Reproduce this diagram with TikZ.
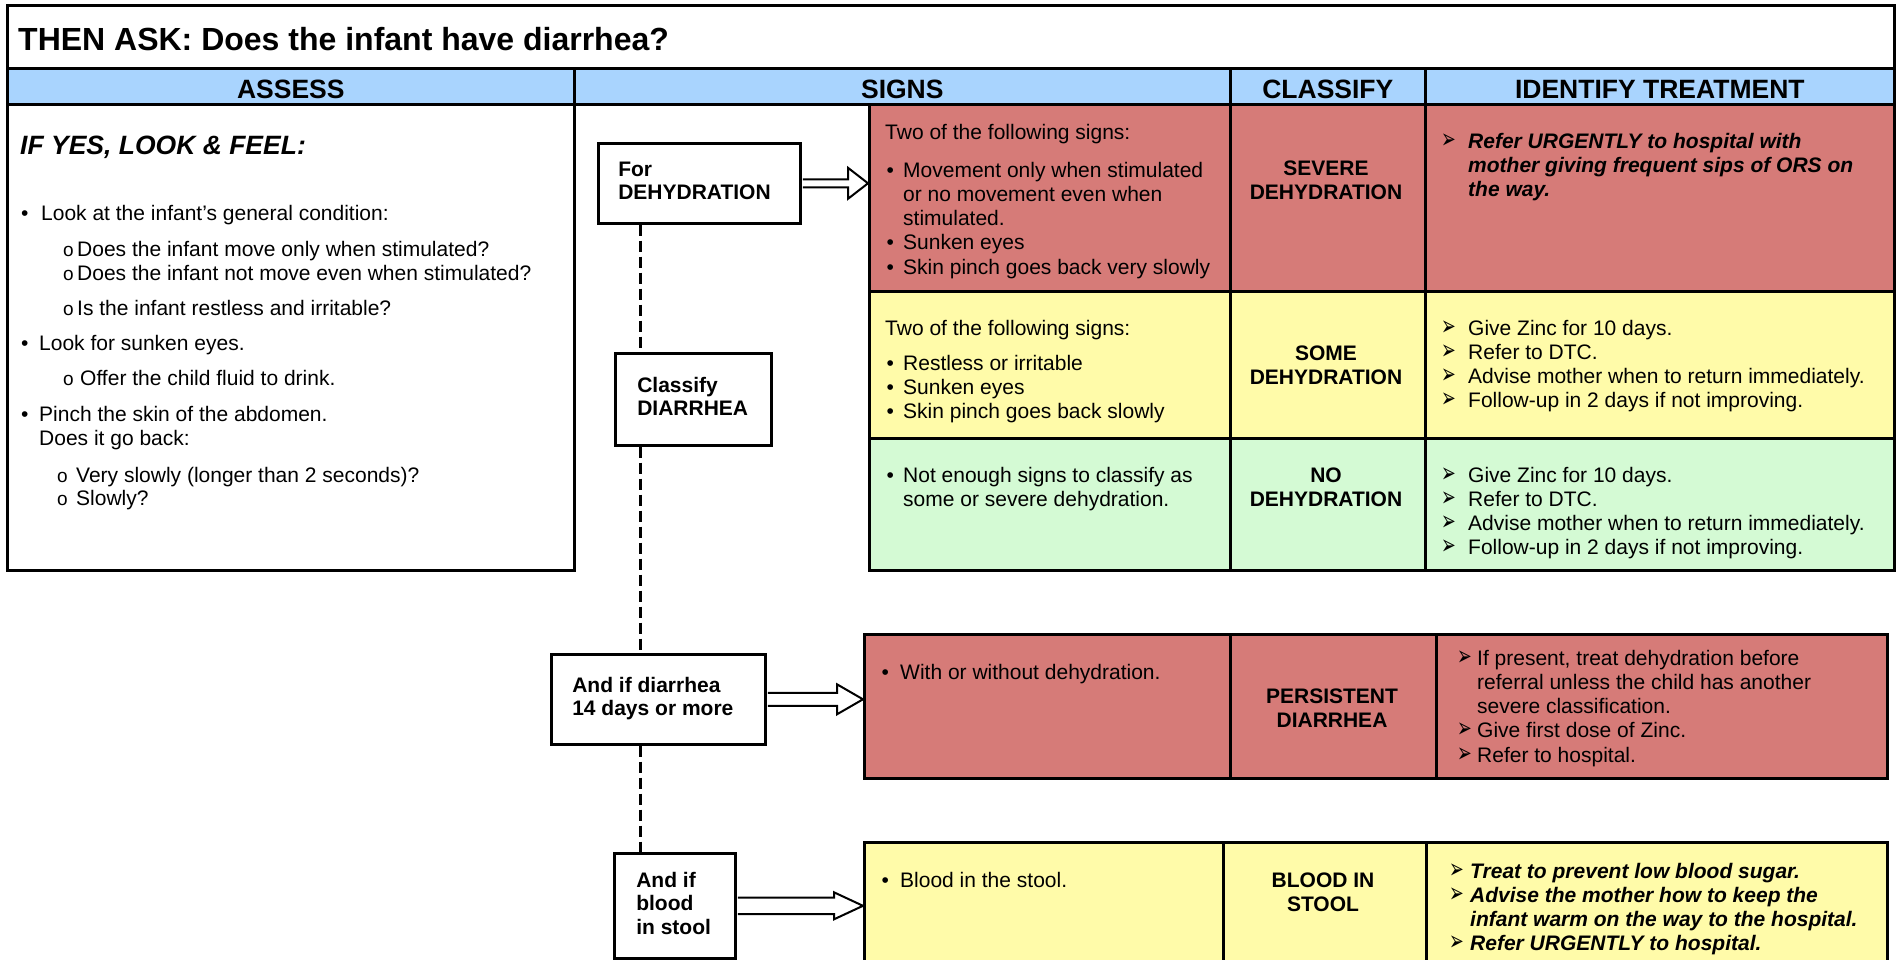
\documentclass[tikz,border=0pt]{standalone}
\usepackage{fontspec}
\usepackage{graphicx}
\setmainfont{Liberation Sans}
\newfontfamily\dvfont{DejaVu Sans}
\usetikzlibrary{calc}
\definecolor{cred}{HTML}{D67B78}
\definecolor{cyel}{HTML}{FFFBA9}
\definecolor{cgrn}{HTML}{D4FAD4}
\definecolor{cblu}{HTML}{A9D4FE}
\newcommand\bodyfont{\fontsize{21}{24.3}\selectfont}
\newcommand\xbul{\hspace*{1.5pt}\makebox[16.5pt][l]{\textbullet}}
\newcommand\xind{\hspace*{18pt}}
\newcommand\xsubc{{\fontsize{19}{19}\selectfont o}}
\newcommand\xtar[1]{\makebox[#1][l]{\scalebox{0.8}[1.25]{\dvfont\fontsize{22}{22}\selectfont ➢}}}
\newcommand\xharrow[5]{%
  \draw[hollow] ($(#1.east)+(1.3,-#3)$) -- ($(#2.west |- #1.east)+(-#5,-#3)$)
    -- ($(#2.west |- #1.east)+(-#5,-#4)$) -- (#2.west |- #1.east)
    -- ($(#2.west |- #1.east)+(-#5,#4)$) -- ($(#2.west |- #1.east)+(-#5,#3)$)
    -- ($(#1.east)+(1.3,#3)$);}
\tikzset{
  cellbox/.style={draw=black, line width=2.6pt, rectangle, inner sep=0pt, anchor=north west},
  hdr/.style={cellbox, fill=cblu, minimum height=36pt, text height=24pt, text depth=0pt,
    font=\fontsize{26.5}{30}\selectfont\bfseries},
  txt/.style={anchor=base west, inner sep=0pt, font=\bodyfont},
  ctxt/.style={anchor=base, inner sep=0pt, font=\bodyfont\bfseries},
  btxt/.style={anchor=base west, inner sep=0pt, font=\bodyfont\bfseries\itshape},
  flowbox/.style={draw=black, line width=2.6pt, fill=white, inner sep=0pt, anchor=north west,
    font=\fontsize{21}{23.5}\selectfont\bfseries},
  hollow/.style={draw=black, line width=2pt, fill=white, line join=miter},
  dashconn/.style={draw=black, line width=3pt, dash pattern=on 11pt off 5pt}
}
\begin{document}
\begin{tikzpicture}[x=1pt,y=-1pt]
\useasboundingbox (0,0) rectangle (1896,959);
\clip (0,0) rectangle (1896,959);
\fill[white] (0,0) rectangle (1896,959);

% title and header
\node[cellbox, fill=white, minimum width=1887pt, minimum height=63pt] (titlecell) at (6,4) {};
\node[anchor=base west, inner sep=0pt, font=\fontsize{32}{36}\selectfont\bfseries] (ttl) at (18,50)
  {THEN ASK: Does the infant have diarrhea?};
\node[hdr, minimum width=567pt] (hA) at (6,67) {ASSESS};
\node[hdr, minimum width=656pt] (hS) at (573,67) {SIGNS};
\node[hdr, minimum width=195pt] (hC) at (1229,67) {CLASSIFY};
\node[hdr, minimum width=469pt] (hT) at (1424,67) {IDENTIFY TREATMENT};

% assess column
\node[cellbox, fill=white, minimum width=567pt, minimum height=466pt] (assess) at (6,103) {};
\node[anchor=base west, inner sep=0pt, font=\fontsize{26.5}{30}\selectfont\bfseries\itshape] (ifyes) at (20,154)
  {IF YES, LOOK \& FEEL:};
\node[txt] (alist) at (21,220) {\begin{tabular}[t]{@{}l@{}}
\makebox[20pt][l]{\textbullet}Look at the infant’s general condition:\\[11.7pt]
\hspace*{42pt}\makebox[14pt][l]{\xsubc}Does the infant move only when stimulated?\\
\hspace*{42pt}\makebox[14pt][l]{\xsubc}Does the infant not move even when stimulated?\\[10.7pt]
\hspace*{42pt}\makebox[14pt][l]{\xsubc}Is the infant restless and irritable?\\[10.7pt]
\makebox[18pt][l]{\textbullet}Look for sunken eyes.\\[10.7pt]
\hspace*{42pt}\makebox[17pt][l]{\xsubc}Offer the child fluid to drink.\\[11.7pt]
\makebox[18pt][l]{\textbullet}Pinch the skin of the abdomen.\\
\hspace*{18pt}Does it go back:\\[12.7pt]
\hspace*{36pt}\makebox[19pt][l]{\xsubc}Very slowly (longer than 2 seconds)?\\[-1.3pt]
\hspace*{36pt}\makebox[19pt][l]{\xsubc}Slowly?
\end{tabular}};

% dehydration table
\node[cellbox, fill=cred, minimum width=361pt, minimum height=187pt] (sev) at (868,103) {};
\node[cellbox, fill=cred, minimum width=195pt, minimum height=187pt] (sevC) at (1229,103) {};
\node[cellbox, fill=cred, minimum width=469pt, minimum height=187pt] (sevT) at (1424,103) {};
\node[cellbox, fill=cyel, minimum width=361pt, minimum height=147pt] (some) at (868,290) {};
\node[cellbox, fill=cyel, minimum width=195pt, minimum height=147pt] (someC) at (1229,290) {};
\node[cellbox, fill=cyel, minimum width=469pt, minimum height=147pt] (someT) at (1424,290) {};
\node[cellbox, fill=cgrn, minimum width=361pt, minimum height=132pt] (nod) at (868,437) {};
\node[cellbox, fill=cgrn, minimum width=195pt, minimum height=132pt] (nodC) at (1229,437) {};
\node[cellbox, fill=cgrn, minimum width=469pt, minimum height=132pt] (nodT) at (1424,437) {};

\node[txt] (sevS) at (885,139) {\begin{tabular}[t]{@{}l@{}}
Two of the following signs:\\[13.7pt]
\xbul Movement only when stimulated\\
\xind or no movement even when\\
\xind stimulated.\\
\xbul Sunken eyes\\
\xbul Skin pinch goes back very slowly
\end{tabular}};
\node[txt] (someS) at (885,335) {\begin{tabular}[t]{@{}l@{}}
Two of the following signs:\\[10.7pt]
\xbul Restless or irritable\\
\xbul Sunken eyes\\
\xbul Skin pinch goes back slowly
\end{tabular}};
\node[txt] (nodS) at (885,482) {\begin{tabular}[t]{@{}l@{}}
\xbul Not enough signs to classify as\\
\xind some or severe dehydration.
\end{tabular}};

\node[ctxt] (sevK) at (1326,175) {\begin{tabular}[t]{@{}c@{}}SEVERE\\DEHYDRATION\end{tabular}};
\node[ctxt] (someK) at (1326,360) {\begin{tabular}[t]{@{}c@{}}SOME\\DEHYDRATION\end{tabular}};
\node[ctxt] (nodK) at (1326,482) {\begin{tabular}[t]{@{}c@{}}NO\\DEHYDRATION\end{tabular}};

\node[btxt] (sevR) at (1441,148) {\begin{tabular}[t]{@{}l@{}}
\xtar{27pt}Refer URGENTLY to hospital with\\
\hspace*{27pt}mother giving frequent sips of ORS on\\
\hspace*{27pt}the way.
\end{tabular}};
\node[txt] (someR) at (1441,335) {\begin{tabular}[t]{@{}l@{}}
\xtar{27pt}Give Zinc for 10 days.\\
\xtar{27pt}Refer to DTC.\\
\xtar{27pt}Advise mother when to return immediately.\\
\xtar{27pt}Follow-up in 2 days if not improving.
\end{tabular}};
\node[txt] (nodR) at (1441,482) {\begin{tabular}[t]{@{}l@{}}
\xtar{27pt}Give Zinc for 10 days.\\
\xtar{27pt}Refer to DTC.\\
\xtar{27pt}Advise mother when to return immediately.\\
\xtar{27pt}Follow-up in 2 days if not improving.
\end{tabular}};

% persistent diarrhea table
\node[cellbox, fill=cred, minimum width=366pt, minimum height=144pt] (pers) at (863,633) {};
\node[cellbox, fill=cred, minimum width=206pt, minimum height=144pt] (persC) at (1229,633) {};
\node[cellbox, fill=cred, minimum width=451pt, minimum height=144pt] (persT) at (1435,633) {};
\node[txt] (persS) at (881.5,679) {\makebox[18.5pt][l]{\textbullet}With or without dehydration.};
\node[ctxt] (persK) at (1332,703) {\begin{tabular}[t]{@{}c@{}}PERSISTENT\\DIARRHEA\end{tabular}};
\node[txt] (persR) at (1457,665) {\begin{tabular}[t]{@{}l@{}}
\xtar{20pt}If present, treat dehydration before\\
\hspace*{20pt}referral unless the child has another\\
\hspace*{20pt}severe classification.\\
\xtar{20pt}Give first dose of Zinc.\\
\xtar{20pt}Refer to hospital.
\end{tabular}};

% blood in stool table
\node[cellbox, fill=cyel, minimum width=359pt, minimum height=130pt] (blood) at (863,841) {};
\node[cellbox, fill=cyel, minimum width=203pt, minimum height=130pt] (bloodC) at (1222,841) {};
\node[cellbox, fill=cyel, minimum width=461pt, minimum height=130pt] (bloodT) at (1425,841) {};
\node[txt] (bloodS) at (881.5,887) {\makebox[18.5pt][l]{\textbullet}Blood in the stool.};
\node[ctxt] (bloodK) at (1323,887) {\begin{tabular}[t]{@{}c@{}}BLOOD IN\\STOOL\end{tabular}};
\node[btxt] (bloodR) at (1449,878) {\begin{tabular}[t]{@{}l@{}}
\xtar{21pt}Treat to prevent low blood sugar.\\
\xtar{21pt}Advise the mother how to keep the\\
\hspace*{21pt}infant warm on the way to the hospital.\\
\xtar{21pt}Refer URGENTLY to hospital.
\end{tabular}};

% flow boxes
\node[flowbox, minimum width=202pt, minimum height=80pt] (dehyd) at (597,142)
  {\makebox[162pt][l]{\begin{tabular}{@{}l@{}}For\\DEHYDRATION\end{tabular}}};
\node[flowbox, minimum width=156pt, minimum height=92pt] (classify) at (614,352)
  {\makebox[112pt][l]{\begin{tabular}{@{}l@{}}Classify\\DIARRHEA\end{tabular}}};
\node[flowbox, minimum width=214pt, minimum height=90pt] (diar14) at (550,653)
  {\makebox[172pt][l]{\begin{tabular}{@{}l@{}}And if diarrhea\\14 days or more\end{tabular}}};
\node[flowbox, minimum width=121pt, minimum height=105pt] (bloodbox) at (613,852)
  {\makebox[77pt][l]{\begin{tabular}{@{}l@{}}And if\\blood\\in stool\end{tabular}}};

% connectors
\coordinate (dx) at (640,0);
\draw[dashconn] (dehyd.south -| dx) -- (classify.north -| dx);
\draw[dashconn] (classify.south -| dx) -- (diar14.north -| dx);
\draw[dashconn] (diar14.south -| dx) -- (bloodbox.north -| dx);
\xharrow{dehyd}{sev}{4}{15.5}{20}
\xharrow{diar14}{pers}{6.5}{15}{26}
\xharrow{bloodbox}{blood}{8.3}{13.5}{29}
\end{tikzpicture}
\end{document}
